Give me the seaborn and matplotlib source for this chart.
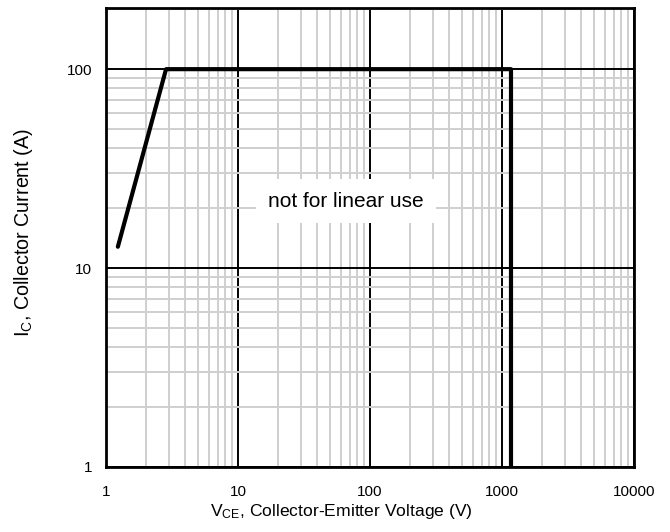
import matplotlib
matplotlib.use("Agg")
import matplotlib.pyplot as plt
import seaborn as sns
import numpy as np
from matplotlib.ticker import LogLocator, NullFormatter

# Data
vce = [1.23, 2.85, 1170, 1170]
ic = [12.8, 100, 100, 1]
x_ticks = [1, 10, 100, 1000, 10000]
x_tick_labels = ["1", "10", "100", "1000", "10000"]
y_ticks = [1, 10, 100]
y_tick_labels = ["1", "10", "100"]
annotation = "not for linear use"

sns.set_theme(style="white")
plt.rcParams['font.family'] = ['Liberation Sans', 'DejaVu Sans']
plt.rcParams['mathtext.fontset'] = 'custom'
plt.rcParams['mathtext.rm'] = 'Liberation Sans'
plt.rcParams['mathtext.it'] = 'Liberation Sans'

fig = plt.figure(figsize=(6.7, 5.32), dpi=100)
ax = fig.add_axes([106/670, 1-467/532, (634-106)/670, (467-8)/532])

ax.set_xscale("log")
ax.set_yscale("log")
ax.set_xlim(1, 10000)
ax.set_ylim(1, 203)

# grid
ax.xaxis.set_minor_locator(LogLocator(base=10, subs=np.arange(2, 10)))
ax.yaxis.set_minor_locator(LogLocator(base=10, subs=np.arange(2, 10)))
ax.xaxis.set_minor_formatter(NullFormatter())
ax.yaxis.set_minor_formatter(NullFormatter())
ax.grid(which="minor", color="#cfcfcf", linewidth=1.4, zorder=0)
ax.grid(which="major", color="black", linewidth=1.4, zorder=1)
ax.set_axisbelow(True)

sns.lineplot(x=vce, y=ic, sort=False, estimator=None, color="black",
             linewidth=3, ax=ax, zorder=3)

ax.set_xticks(x_ticks)
ax.set_xticklabels(x_tick_labels)
ax.set_yticks(y_ticks)
ax.set_yticklabels(y_tick_labels)
ax.tick_params(which="major", length=4, width=1.4, color="black",
               labelsize=11, labelcolor="black", pad=6)
ax.tick_params(which="minor", length=0)
ax.tick_params(axis="x", pad=9)
for s in ax.spines.values():
    s.set_color("black")
    s.set_linewidth(2)
    s.set_visible(True)

ax.text(65.8, 21.7, annotation, fontsize=15, ha="center", va="center",
        color="black", zorder=4,
        bbox=dict(facecolor="white", edgecolor="none", pad=9))

ax.set_xlabel(r"V$_{\mathregular{CE}}$, Collector-Emitter Voltage (V)",
              fontsize=12.6, color="black")
ax.xaxis.set_label_coords(0.445, -0.076)
ax.xaxis.label.set_va("top")
ax.set_ylabel(r"I$_{\mathregular{C}}$, Collector Current (A)",
              fontsize=14.2, color="black")
ax.yaxis.set_label_coords(-0.135, 0.51)

fig.savefig("out.png", dpi=100)
